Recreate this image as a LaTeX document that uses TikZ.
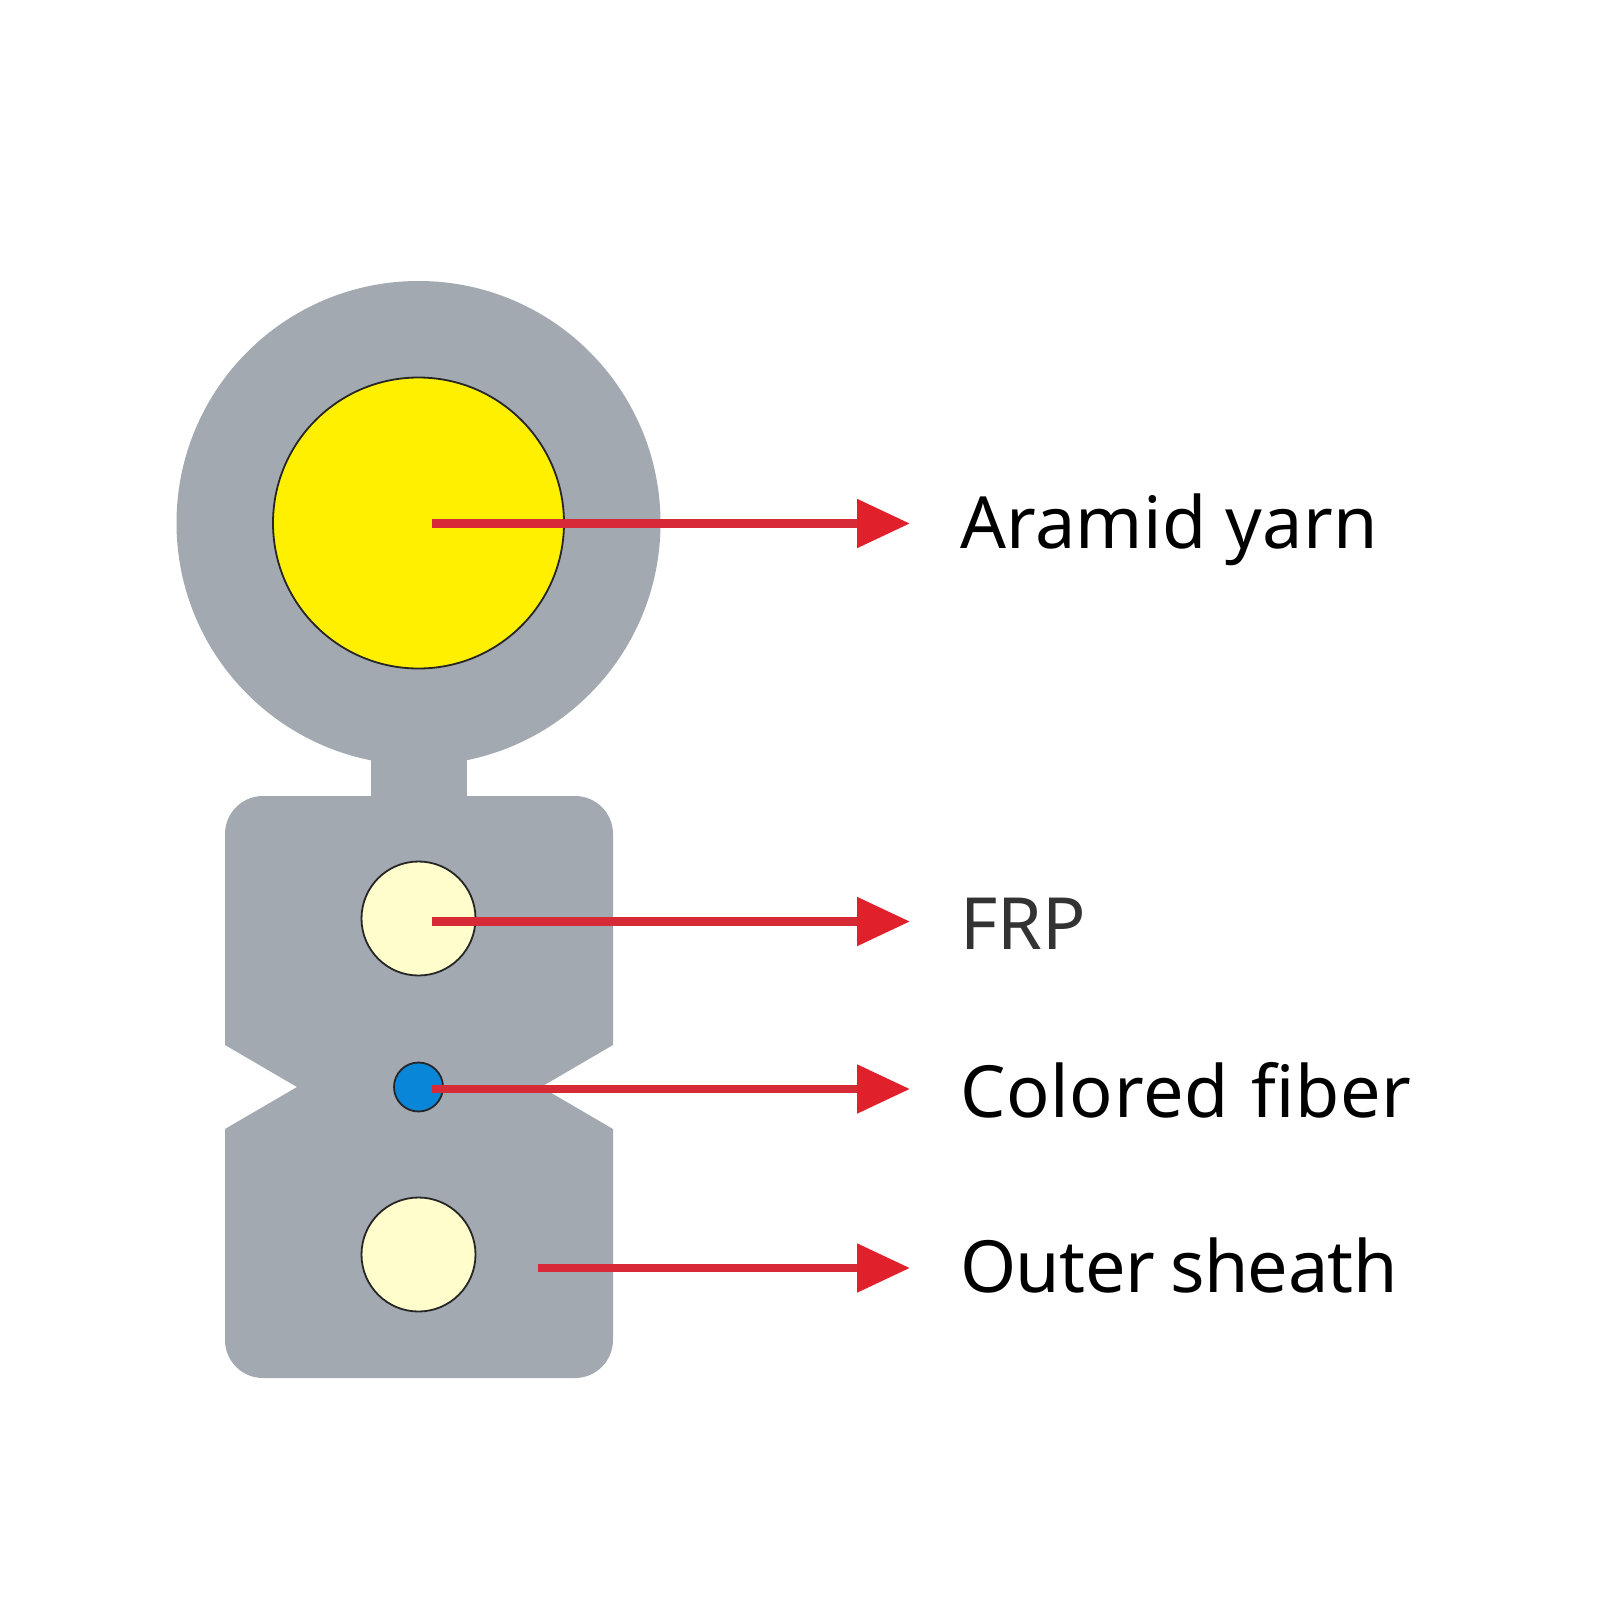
\documentclass[tikz,border=0pt]{standalone}
\usepackage{fontspec}
\setmainfont{Noto Sans}
\usetikzlibrary{arrows.meta}
\definecolor{sheath}{HTML}{A3A9B1}
\definecolor{yarn}{HTML}{FFF000}
\definecolor{frp}{HTML}{FFFDCC}
\definecolor{fiber}{HTML}{0A86D8}
\definecolor{lead}{HTML}{D62A37}
\definecolor{head}{HTML}{E0202B}
\tikzset{
  disc/.style={circle,draw=black!85,line width=1.8pt,inner sep=0pt},
  jacket/.style={circle,fill=sheath,inner sep=0pt,minimum size=484pt},
  pointer/.style={draw=lead,line width=8.5pt,-{Triangle[length=53pt,width=47pt,color=head]}},
  callout/.style={anchor=base west,inner sep=0pt,font=\fontsize{72}{72}\selectfont,text=black},
}
\begin{document}
\begin{tikzpicture}[x=1pt,y=-1pt]
\useasboundingbox (0,0) rectangle (1600,1600);
\fill[white] (0,0) rectangle (1600,1600);
% sheath
\node[jacket] (head) at (418.5,523) {};
\fill[sheath] (371,740) rectangle (467,800);
\fill[sheath] (225,1045) -- (297,1087) -- (225,1129) -- (225,1340)
  .. controls (225,1361) and (242,1378) .. (263,1378) -- (575,1378)
  .. controls (596,1378) and (613,1361) .. (613,1340) -- (613,1129)
  -- (541,1087) -- (613,1045) -- (613,834)
  .. controls (613,813) and (596,796) .. (575,796) -- (263,796)
  .. controls (242,796) and (225,813) .. (225,834) -- cycle;
% elements
\node[disc,fill=yarn,minimum size=291pt] (yarn) at (418.5,523) {};
\node[disc,fill=frp,minimum size=114pt] (frpa) at (418.5,918.5) {};
\node[disc,fill=fiber,minimum size=49pt] (fib) at (418.5,1087) {};
\node[disc,fill=frp,minimum size=114pt] (frpb) at (418.5,1254.5) {};
% labels
\node[callout] (laba) at (960,548) {\addfontfeature{LetterSpace=0.4}Aramid yarn};
\node[callout,text=black!80] (labb) at (960,949) {\addfontfeature{LetterSpace=0.4}FRP};
\node[callout] (labc) at (960,1117) {\addfontfeature{LetterSpace=1}Colored\hspace{3pt} fiber};
\node[callout] (labd) at (960,1292) {\addfontfeature{LetterSpace=-0.8}Outer\hspace{-3pt} sheath};
% connector ends
\coordinate (sa) at (432,523.5);
\coordinate (ta) at (910,523.5);
\coordinate (sb) at (432,921.5);
\coordinate (tb) at (910,921.5);
\coordinate (sc) at (432,1089);
\coordinate (tc) at (910,1089);
\coordinate (sd) at (538,1268);
\coordinate (td) at (910,1268);
\draw[pointer] (sa) -- (ta);
\draw[pointer] (sb) -- (tb);
\draw[pointer] (sc) -- (tc);
\draw[pointer] (sd) -- (td);
\end{tikzpicture}
\end{document}
